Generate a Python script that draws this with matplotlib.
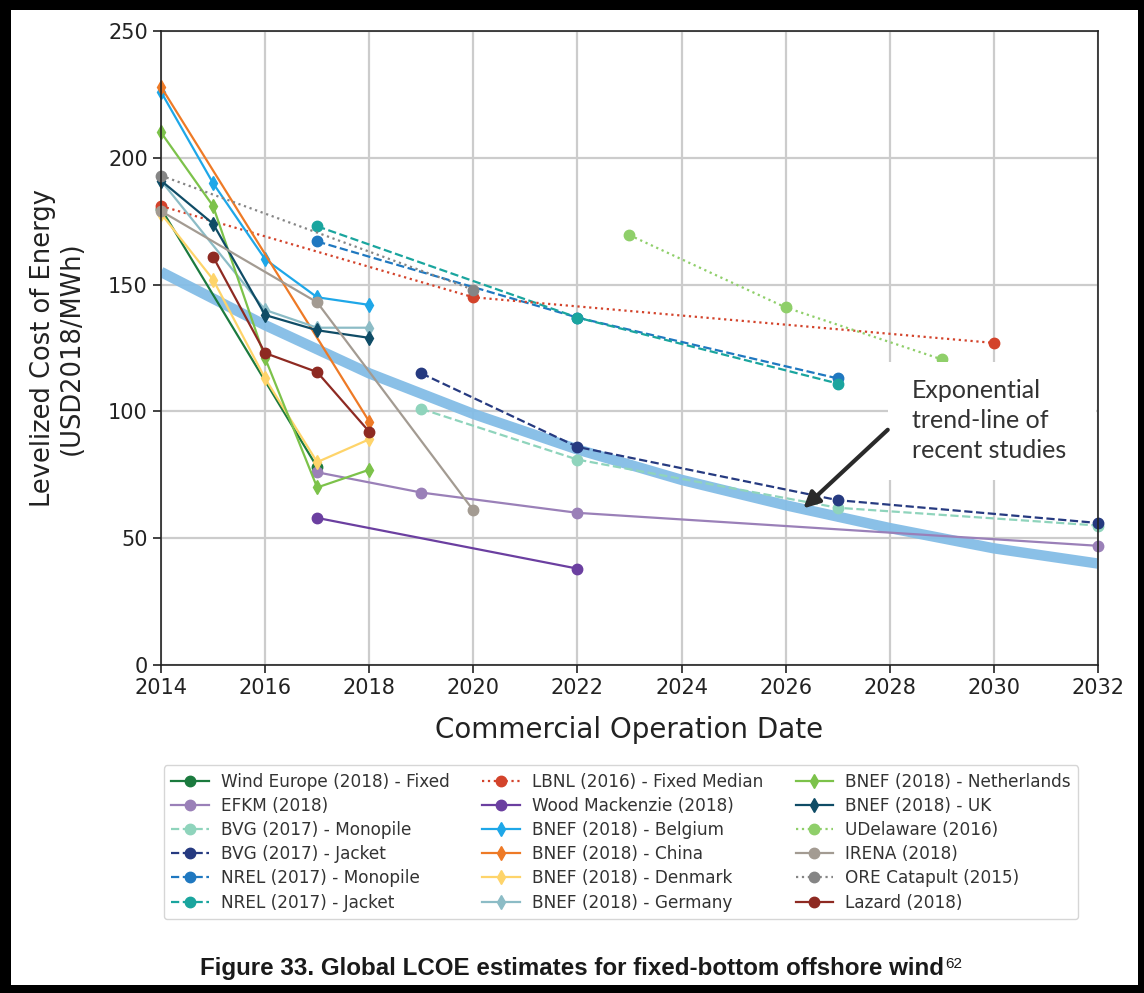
import matplotlib
matplotlib.use("Agg")
import matplotlib.pyplot as plt
from matplotlib.patches import Rectangle

plt.rcParams["font.family"] = ["DejaVu Sans"]

# ---- data ----
we_x = [2014, 2017]
we_y = [180, 78]
efkm_x = [2017, 2019, 2022, 2032]
efkm_y = [76, 68, 60, 47]
bvg_mono_x = [2019, 2022, 2027, 2032]
bvg_mono_y = [101, 81, 62, 55]
bvg_jack_x = [2019, 2022, 2027, 2032]
bvg_jack_y = [115, 86, 65, 56]
nrel_mono_x = [2017, 2022, 2027]
nrel_mono_y = [167, 137, 113]
nrel_jack_x = [2017, 2022, 2027]
nrel_jack_y = [173, 137, 111]
lbnl_x = [2014, 2020, 2030]
lbnl_y = [181, 145, 127]
woodmac_x = [2017, 2022]
woodmac_y = [58, 38]
bnef_be_x = [2014, 2015, 2016, 2017, 2018]
bnef_be_y = [226, 190, 160, 145, 142]
bnef_cn_x = [2014, 2018]
bnef_cn_y = [228, 96]
bnef_dk_x = [2014, 2015, 2016, 2017, 2018]
bnef_dk_y = [178, 152, 113, 80, 89]
bnef_de_x = [2014, 2016, 2017, 2018]
bnef_de_y = [191, 140, 133, 133]
bnef_nl_x = [2014, 2015, 2016, 2017, 2018]
bnef_nl_y = [210, 181, 121, 70, 77]
bnef_uk_x = [2014, 2015, 2016, 2017, 2018]
bnef_uk_y = [191, 174, 138, 132, 129]
udel_x = [2023, 2026, 2029]
udel_y = [169.5, 141, 120.5]
irena_x = [2014, 2017, 2020]
irena_y = [179, 143, 61]
ore_x = [2014, 2020]
ore_y = [193, 148]
lazard_x = [2015, 2016, 2017, 2018]
lazard_y = [161, 123, 115.5, 92]

trend_x = [2014, 2016, 2018, 2020, 2022, 2024, 2026, 2028, 2030, 2032]
trend_y = [155, 134, 115, 99, 85, 73, 63, 54, 46, 40]

series = [
    ("Wind Europe (2018) - Fixed", we_x, we_y, "#1b7a3e", "-", "o"),
    ("EFKM (2018)", efkm_x, efkm_y, "#9a80b8", "-", "o"),
    ("BVG (2017) - Monopile", bvg_mono_x, bvg_mono_y, "#8fd4bc", "--", "o"),
    ("BVG (2017) - Jacket", bvg_jack_x, bvg_jack_y, "#263a80", "--", "o"),
    ("NREL (2017) - Monopile", nrel_mono_x, nrel_mono_y, "#1f78c0", "--", "o"),
    ("NREL (2017) - Jacket", nrel_jack_x, nrel_jack_y, "#1aa59e", "--", "o"),
    ("LBNL (2016) - Fixed Median", lbnl_x, lbnl_y, "#d3432b", ":", "o"),
    ("Wood Mackenzie (2018)", woodmac_x, woodmac_y, "#6b3fa0", "-", "o"),
    ("BNEF (2018) - Belgium", bnef_be_x, bnef_be_y, "#1ea7e8", "-", "d"),
    ("BNEF (2018) - China", bnef_cn_x, bnef_cn_y, "#ee7a26", "-", "d"),
    ("BNEF (2018) - Denmark", bnef_dk_x, bnef_dk_y, "#fed46a", "-", "d"),
    ("BNEF (2018) - Germany", bnef_de_x, bnef_de_y, "#8cbcc6", "-", "d"),
    ("BNEF (2018) - Netherlands", bnef_nl_x, bnef_nl_y, "#7cc24a", "-", "d"),
    ("BNEF (2018) - UK", bnef_uk_x, bnef_uk_y, "#0f4c66", "-", "d"),
    ("UDelaware (2016)", udel_x, udel_y, "#8fcf6a", ":", "o"),
    ("IRENA (2018)", irena_x, irena_y, "#a39b92", "-", "o"),
    ("ORE Catapult (2015)", ore_x, ore_y, "#858585", ":", "o"),
    ("Lazard (2018)", lazard_x, lazard_y, "#8e2a22", "-", "o"),
]

W, H = 1144, 993
fig = plt.figure(figsize=(W / 100, H / 100), dpi=100)
fig.patch.set_facecolor("black")
fig.add_artist(Rectangle((11 / W, 8 / H), (1138 - 11) / W, (985 - 10) / H,
                         transform=fig.transFigure, facecolor="white",
                         edgecolor="none", zorder=0))

ax = fig.add_axes([161 / W, 1 - 665 / H, (1098 - 161) / W, (665 - 31) / H])
ax.set_facecolor("white")

ax.plot(trend_x, trend_y, color="#84bde6", linewidth=7.5, alpha=0.95,
        solid_capstyle="butt", zorder=1.5)

for label, xs, ys, c, ls, m in series:
    ax.plot(xs, ys, color=c, linestyle=ls, marker=m, markersize=7.5,
            linewidth=1.6, label=label, zorder=2, clip_on=False)

ax.set_xlim(2014, 2032)
ax.set_ylim(0, 250)
ax.set_xticks(range(2014, 2033, 2))
ax.set_yticks(range(0, 251, 50))
ax.grid(True, color="#cccccc", linewidth=1.6)
ax.set_axisbelow(True)
ax.tick_params(labelsize=15, colors="#222222", length=6, width=1.2)
for sp in ax.spines.values():
    sp.set_color("#222222")
    sp.set_linewidth(1.2)

ax.set_xlabel("Commercial Operation Date", fontsize=20, color="#222222",
              labelpad=13)
ax.set_ylabel("Levelized Cost of Energy\n(USD2018/MWh)", fontsize=18.5,
              color="#222222", labelpad=17, linespacing=1.1)

# annotation box with arrow
ax.add_patch(Rectangle((2027.96, 73), 4.0, 46.5, facecolor="white",
                       edgecolor="none", zorder=5))
ax.text(2028.43, 96.5, "Exponential\ntrend-line of\nrecent studies",
        fontsize=18, family="Lato", color="#333333", va="center",
        ha="left", linespacing=1.38, zorder=6)
ax.annotate("", xy=(2026.3, 61), xytext=(2028.0, 93.5),
            arrowprops=dict(arrowstyle="-|>", color="#2a2a2a", lw=3,
                            mutation_scale=24), zorder=6)

leg = ax.legend(loc="upper left", bbox_to_anchor=(-0.006, -0.145), ncol=3,
                fontsize=12.2, frameon=True, edgecolor="#cccccc",
                handlelength=2.2, columnspacing=1.95, labelspacing=0.36,
                borderpad=0.45, handletextpad=0.7)
for t in leg.get_texts():
    t.set_color("#333333")

cap = fig.text(572 / W, 1 - 968 / H,
               "Figure 33. Global LCOE estimates for fixed-bottom offshore wind",
               fontsize=17.4, fontweight="bold",
               family=["Liberation Sans", "DejaVu Sans"],
               ha="center", va="center", color="#1a1a1a")
fig.canvas.draw()
bb = cap.get_window_extent(fig.canvas.get_renderer())
fig.text((bb.x1 + 1) / W, (bb.y1 - 1) / H, "62", fontsize=11,
         family=["Liberation Sans", "DejaVu Sans"],
         ha="left", va="top", color="#1a1a1a")

fig.savefig("out.png", dpi=100, facecolor=fig.get_facecolor())
